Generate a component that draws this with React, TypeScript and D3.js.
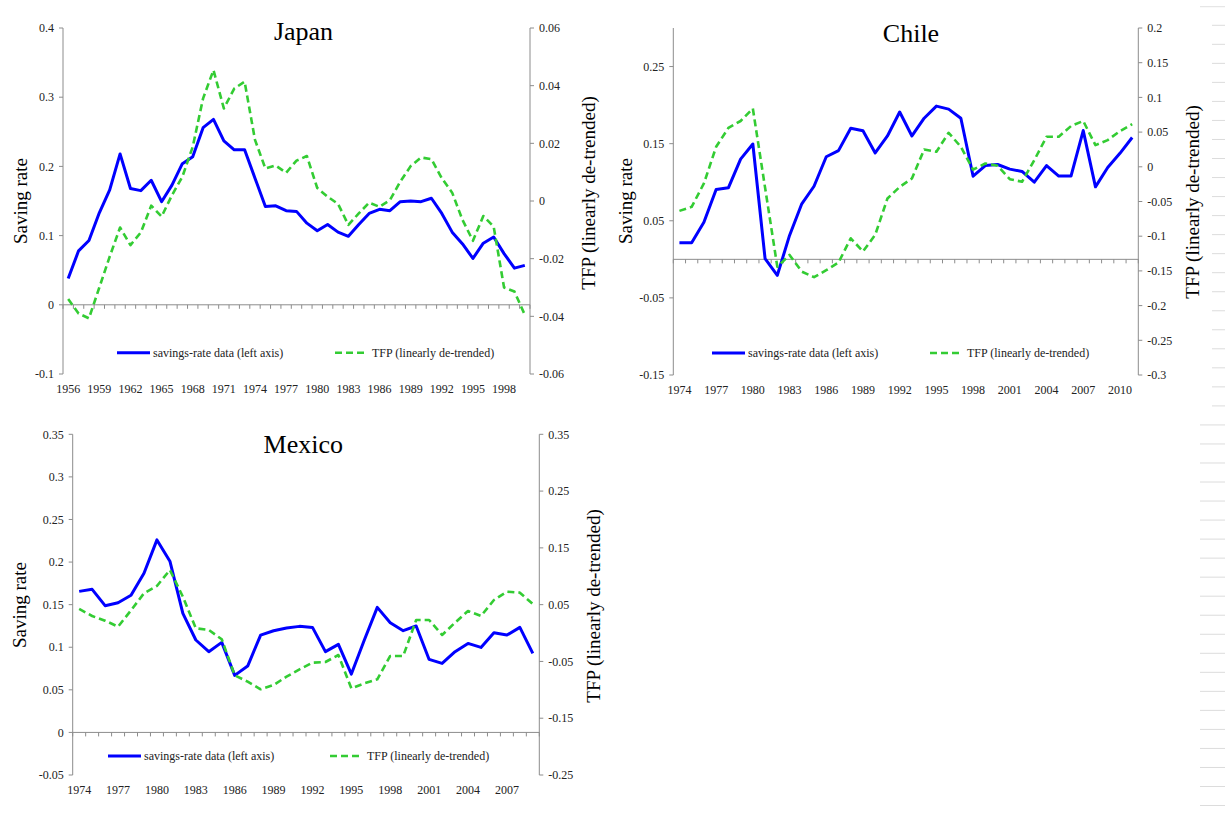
import React from "react";
import * as d3 from "d3";

// ---------- DATA ----------
const japanYears = d3.range(1956, 2001);
const japanSaving = [0.038,0.078,0.093,0.133,0.166,0.218,0.168,0.165,0.180,0.149,0.173,0.204,0.214,0.256,0.268,0.237,0.224,0.224,0.183,0.142,0.143,0.136,0.135,0.118,0.107,0.116,0.105,0.099,0.116,0.132,0.138,0.136,0.149,0.150,0.149,0.154,0.132,0.105,0.088,0.067,0.089,0.098,0.074,0.053,0.057];
const japanTFP = [-0.034,-0.039,-0.0407,-0.030,-0.0193,-0.0092,-0.0153,-0.0109,-0.0016,-0.0054,0.002,0.0084,0.0188,0.0356,0.0454,0.0321,0.039,0.0414,0.0212,0.0113,0.0123,0.0098,0.014,0.0156,0.0045,0.0015,-0.001,-0.0083,-0.0043,-0.0006,-0.002,0.0003,0.0067,0.0121,0.0151,0.0145,0.0079,0.0029,-0.0066,-0.0138,-0.0052,-0.0089,-0.030,-0.0314,-0.0395];
const japanLeftTicks = [-0.1, 0, 0.1, 0.2, 0.3, 0.4];
const japanRightTicks = [-0.06, -0.04, -0.02, 0, 0.02, 0.04, 0.06];

const chileYears = d3.range(1974, 2012);
const chileSaving = [0.0216,0.0216,0.048,0.0905,0.0927,0.130,0.1496,0.001,-0.0207,0.031,0.072,0.0948,0.133,0.141,0.170,0.1668,0.138,0.160,0.191,0.160,0.183,0.1987,0.1948,0.183,0.1078,0.1216,0.123,0.117,0.114,0.100,0.1216,0.108,0.108,0.167,0.094,0.119,0.1375,0.158];
const chileTFP = [-0.0635,-0.0577,-0.024,0.0288,0.056,0.066,0.084,-0.03,-0.144,-0.127,-0.151,-0.159,-0.149,-0.138,-0.103,-0.122,-0.098,-0.0457,-0.029,-0.0168,0.025,0.0216,0.049,0.0288,-0.004,0.0048,0.0014,-0.0178,-0.0216,0.0096,0.0433,0.0433,0.0587,0.066,0.0312,0.0385,0.0514,0.0615];
const chileLeftTicks = [-0.15, -0.05, 0.05, 0.15, 0.25];
const chileRightTicks = [-0.3, -0.25, -0.2, -0.15, -0.1, -0.05, 0, 0.05, 0.1, 0.15, 0.2];

const mexicoYears = d3.range(1974, 2010);
const mexicoSaving = [0.1656,0.168,0.1488,0.1523,0.161,0.1868,0.226,0.201,0.1398,0.1085,0.0948,0.1057,0.067,0.0779,0.1143,0.1194,0.1226,0.1245,0.1233,0.0948,0.1034,0.0685,0.1085,0.1468,0.1288,0.1194,0.1249,0.0857,0.081,0.0948,0.1045,0.0998,0.117,0.1143,0.1233,0.0928];
const mexicoTFP = [0.0424,0.030,0.0218,0.0112,0.040,0.070,0.0829,0.111,0.064,0.0083,0.0054,-0.011,-0.0745,-0.0856,-0.099,-0.0915,-0.0768,-0.064,-0.0522,-0.051,-0.0387,-0.0974,-0.0886,-0.0815,-0.0404,-0.0404,0.023,0.023,-0.0034,0.0183,0.0388,0.030,0.0582,0.0729,0.0711,0.0512];
const mexicoLeftTicks = [-0.05, 0, 0.05, 0.1, 0.15, 0.2, 0.25, 0.3, 0.35];
const mexicoRightTicks = [-0.25, -0.15, -0.05, 0.05, 0.15, 0.25, 0.35];

const legendSaving = "savings-rate data (left axis)";
const legendTFP = "TFP (linearly de-trended)";
const leftTitle = "Saving rate";
const rightTitle = "TFP (linearly de-trended)";

// ---------- STYLE ----------
const FONT = "'Liberation Serif', 'Times New Roman', serif";
const BLUE = "#0000FF";
const GREEN = "#33CC33";
const AXIS = "#8c8c8c";

const fmt = (v: number) => String(Math.round(v * 1000) / 1000);

type PanelProps = {
  title: string;
  years: number[];
  saving: number[];
  tfp: number[];
  leftDomain: [number, number];
  rightDomain: [number, number];
  leftTicks: number[];
  rightTicks: number[];
  xL: number; xR: number; yT: number; yB: number;
  titleX: number; titleY: number;
  leftTitleX: number; leftTitleY: number;
  rightTitleX: number; rightTitleY: number;
  legY: number; legBlueX: number; legGreenX: number;
};

function Panel(p: PanelProps) {
  const x = d3.scaleBand<number>().domain(p.years).range([p.xL, p.xR]).paddingInner(0).paddingOuter(0);
  const bw = x.bandwidth();
  const cx = (yr: number) => (x(yr) as number) + bw / 2;
  const yL = d3.scaleLinear().domain(p.leftDomain).range([p.yB, p.yT]);
  const yR = d3.scaleLinear().domain(p.rightDomain).range([p.yB, p.yT]);
  const lineL = d3.line<number>().x((_, i) => cx(p.years[i])).y((d) => yL(d));
  const lineR = d3.line<number>().x((_, i) => cx(p.years[i])).y((d) => yR(d));
  const y0 = yL(0);
  const edges = p.years.map((yr) => x(yr) as number).concat([p.xR]);
  const labelYears = p.years.filter((_, i) => i % 3 === 0);

  return (
    <g>
      {/* left axis */}
      <line x1={p.xL} x2={p.xL} y1={p.yT} y2={p.yB} stroke={AXIS} strokeWidth={1} />
      {p.leftTicks.map((t) => (
        <g key={"l" + t}>
          <line x1={p.xL - 4} x2={p.xL} y1={yL(t)} y2={yL(t)} stroke={AXIS} />
          <text x={p.xL - 9} y={yL(t)} dy="0.35em" textAnchor="end" fontSize={12} fontFamily={FONT} fill="#222">{fmt(t)}</text>
        </g>
      ))}
      {/* right axis */}
      <line x1={p.xR} x2={p.xR} y1={p.yT} y2={p.yB} stroke={AXIS} strokeWidth={1} />
      {p.rightTicks.map((t) => (
        <g key={"r" + t}>
          <line x1={p.xR} x2={p.xR + 4} y1={yR(t)} y2={yR(t)} stroke={AXIS} />
          <text x={p.xR + 9} y={yR(t)} dy="0.35em" textAnchor="start" fontSize={12} fontFamily={FONT} fill="#222">{fmt(t)}</text>
        </g>
      ))}
      {/* category axis at zero */}
      <line x1={p.xL} x2={p.xR} y1={y0} y2={y0} stroke={AXIS} strokeWidth={1} />
      {edges.map((e, i) => (
        <line key={"e" + i} x1={e} x2={e} y1={y0} y2={y0 + 4} stroke={AXIS} />
      ))}
      {labelYears.map((yr) => (
        <text key={"x" + yr} x={cx(yr)} y={p.yB + 18.5} textAnchor="middle" fontSize={12} fontFamily={FONT} fill="#222">{yr}</text>
      ))}
      {/* series */}
      <path d={lineL(p.saving) || ""} fill="none" stroke={BLUE} strokeWidth={3} strokeLinejoin="round" />
      <path d={lineR(p.tfp) || ""} fill="none" stroke={GREEN} strokeWidth={2.6} strokeDasharray="7,4" strokeLinejoin="round" />
      {/* titles */}
      <text x={p.titleX} y={p.titleY} textAnchor="middle" fontSize={26} fontFamily={FONT} fill="#000">{p.title}</text>
      <text transform={`translate(${p.leftTitleX},${p.leftTitleY}) rotate(-90)`} textAnchor="middle" dy="0.35em" fontSize={19} fontFamily={FONT} fill="#000">{leftTitle}</text>
      <text transform={`translate(${p.rightTitleX},${p.rightTitleY}) rotate(-90)`} textAnchor="middle" dy="0.35em" fontSize={19} fontFamily={FONT} fill="#000">{rightTitle}</text>
      {/* legend */}
      <line x1={p.legBlueX} x2={p.legBlueX + 33} y1={p.legY} y2={p.legY} stroke={BLUE} strokeWidth={3} />
      <text x={p.legBlueX + 36} y={p.legY} dy="0.35em" fontSize={12} fontFamily={FONT} fill="#222">{legendSaving}</text>
      <line x1={p.legGreenX} x2={p.legGreenX + 31} y1={p.legY} y2={p.legY} stroke={GREEN} strokeWidth={2.6} strokeDasharray="7,4" />
      <text x={p.legGreenX + 37} y={p.legY} dy="0.35em" fontSize={12} fontFamily={FONT} fill="#222">{legendTFP}</text>
    </g>
  );
}

export default function App() {
  const edgeLines = d3.range(0, 42).map((k) => 25.3 + 19.03 * k).filter((y) => y < 823);
  return (
    <svg width={1225} height={823} style={{ position: "absolute", left: 0, top: 0, background: "#fff" }}>
      <rect x={0} y={0} width={1225} height={823} fill="#fff" />
      {/* faint spreadsheet row marks at right edge */}
      <line x1={1200} x2={1225} y1={6.7} y2={6.7} stroke="#e0e0e0" />
      {edgeLines.map((y, i) => (
        <line key={i} x1={y > 420 ? 1200 : 1212} x2={1225} y1={y} y2={y} stroke="#dcdcdc" />
      ))}
      <Panel
        title="Japan" years={japanYears} saving={japanSaving} tfp={japanTFP}
        leftDomain={[-0.1, 0.4]} rightDomain={[-0.06, 0.06]}
        leftTicks={japanLeftTicks} rightTicks={japanRightTicks}
        xL={63} xR={530} yT={28} yB={374}
        titleX={303.5} titleY={40}
        leftTitleX={20} leftTitleY={201}
        rightTitleX={588.5} rightTitleY={193}
        legY={352.7} legBlueX={117} legGreenX={335}
      />
      <Panel
        title="Chile" years={chileYears} saving={chileSaving} tfp={chileTFP}
        leftDomain={[-0.15, 0.3]} rightDomain={[-0.3, 0.2]}
        leftTicks={chileLeftTicks} rightTicks={chileRightTicks}
        xL={673.3} xR={1138.3} yT={28} yB={375}
        titleX={911} titleY={41.5}
        leftTitleX={625.5} leftTitleY={201}
        rightTitleX={1192} rightTitleY={202}
        legY={353} legBlueX={712} legGreenX={930}
      />
      <Panel
        title="Mexico" years={mexicoYears} saving={mexicoSaving} tfp={mexicoTFP}
        leftDomain={[-0.05, 0.35]} rightDomain={[-0.25, 0.35]}
        leftTicks={mexicoLeftTicks} rightTicks={mexicoRightTicks}
        xL={72.7} xR={539.3} yT={434.3} yB={775}
        titleX={303.3} titleY={453}
        leftTitleX={19} leftTitleY={605}
        rightTitleX={593} rightTitleY={606}
        legY={756} legBlueX={108} legGreenX={330}
      />
    </svg>
  );
}
